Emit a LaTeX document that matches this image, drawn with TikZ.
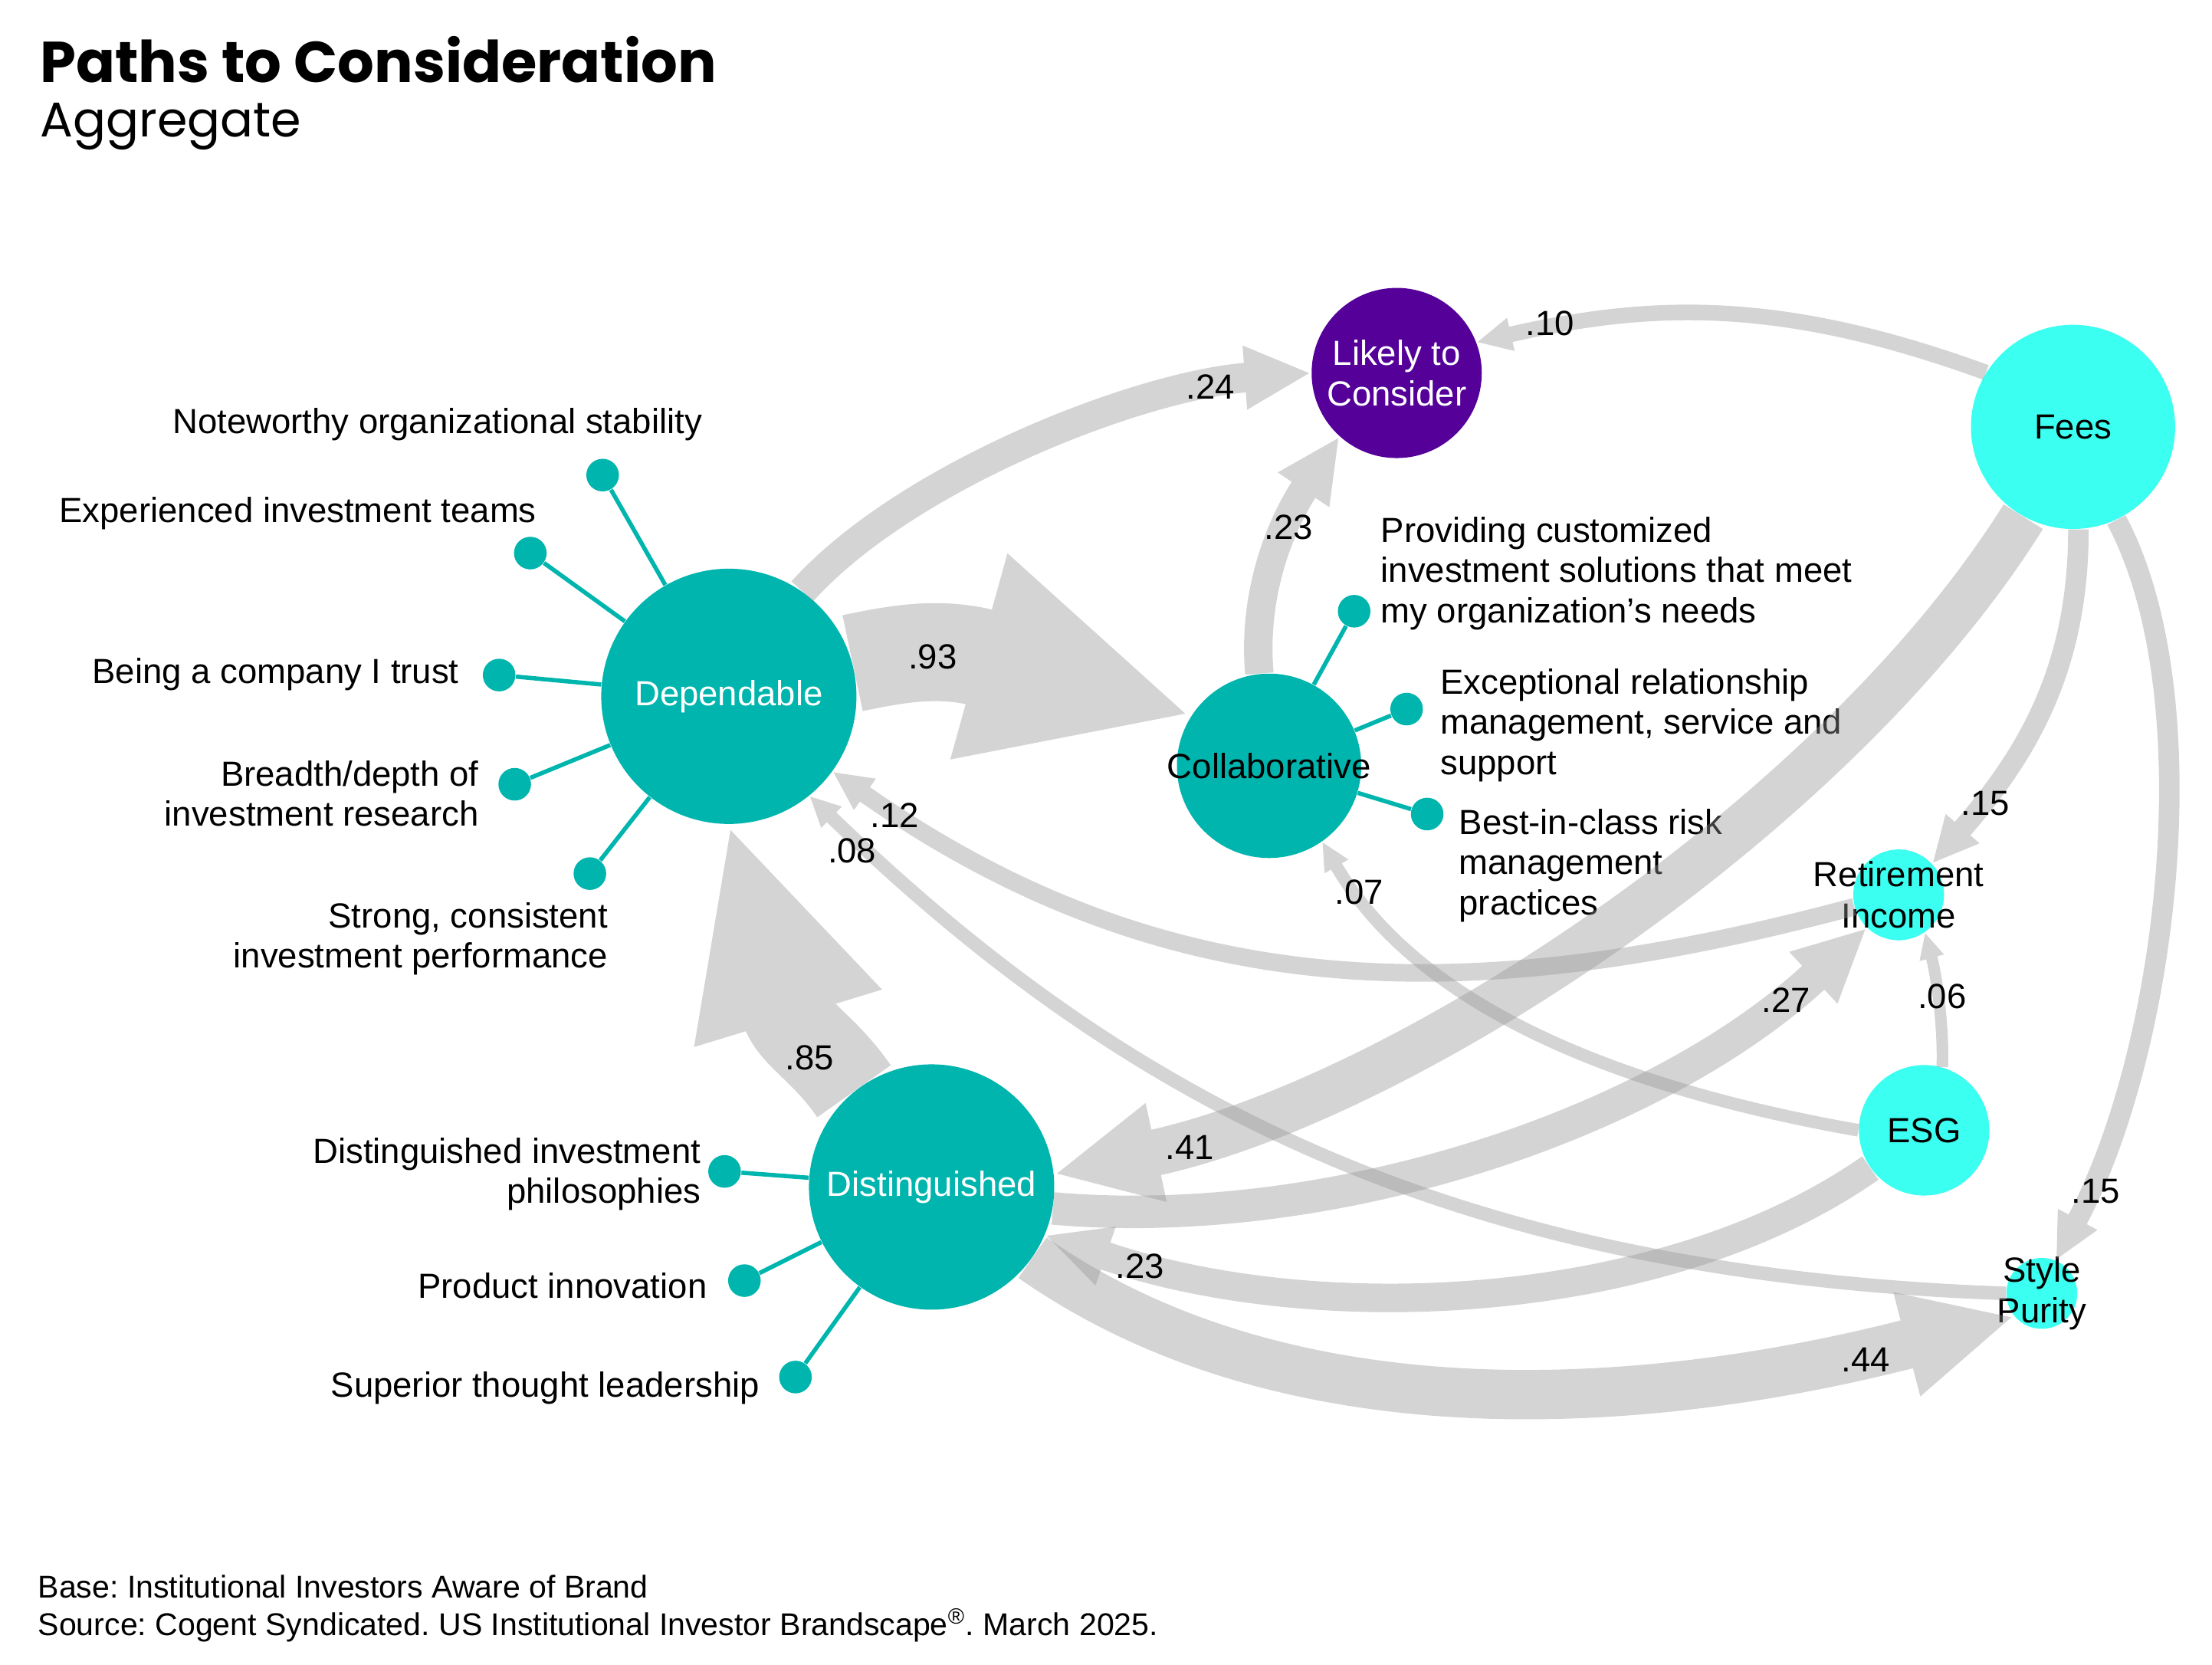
\documentclass[tikz,border=0pt]{standalone}
\usepackage{fontspec}
\setmainfont{Liberation Sans}
\newfontfamily\titlefont{Poppins}
\usetikzlibrary{arrows.meta,positioning}
\frenchspacing

\definecolor{brandteal}{HTML}{00B5AD}
\definecolor{brandpurple}{HTML}{540099}
\definecolor{brandaqua}{HTML}{3BFFF0}
\colorlet{flowgray}{black!42}

\tikzset{
  bubble/.style={circle, inner sep=0pt, fill=#1},
  inlabel/.style={font=\fontsize{12.3}{14.5}\selectfont, inner sep=0pt, align=center},
  dot/.style={circle, inner sep=0pt, minimum size=11.5pt, fill=brandteal},
  spoke/.style={draw=brandteal, line width=1.5pt},
  txt/.style={font=\fontsize{12.3}{14.2}\selectfont, inner sep=0pt},
  num/.style={font=\fontsize{12.3}{14.2}\selectfont, inner sep=0pt},
  flow/.style={draw=flowgray, line width=#1, -{Triangle[length=0pt 2.25, width=0pt 2]}}
}

\newcommand\flowarrow[2]{%
  \begin{scope}[transparency group, opacity=.4]
    \draw[flow=#1] #2;
  \end{scope}}

\begin{document}
\begin{tikzpicture}[x=0.5pt, y=0.5pt]
  \useasboundingbox (0,0) rectangle (1560,-1174);

  % title
  \node[anchor=base west, inner sep=0pt, font=\titlefont\bfseries\fontsize{20.3}{24}\selectfont] (title) at (28,-58) {Paths to Consideration};
  \node[anchor=base west, inner sep=0pt, font=\titlefont\fontsize{17.2}{21}\selectfont] (subtitle) at (28,-96.5) {Aggregate};

  % bubbles
  \node[bubble=brandteal, minimum size=90pt, label={[inlabel, text=white]center:Dependable}] (dep) at (514,-491) {};
  \node[bubble=brandteal, minimum size=65pt, label={[inlabel]center:Collaborative}] (col) at (895,-540) {};
  \node[bubble=brandteal, minimum size=86.5pt, label={[inlabel, text=white]center:Distinguished}] (dis) at (657,-837) {};
  \node[bubble=brandpurple, minimum size=60pt, label={[inlabel, text=white]center:Likely to\\Consider}] (lik) at (985,-263) {};
  \node[bubble=brandaqua, minimum size=72pt, label={[inlabel]center:Fees}] (fees) at (1462,-301) {};
  \node[bubble=brandaqua, minimum size=32pt, label={[inlabel]center:Retirement\\Income}] (ret) at (1339,-631) {};
  \node[bubble=brandaqua, minimum size=46pt, label={[inlabel]center:ESG}] (esg) at (1357,-797) {};
  \node[bubble=brandaqua, minimum size=25pt, label={[inlabel]center:Style\\Purity}] (sty) at (1440,-912) {};

  % attributes of Dependable
  \node[dot] (d1) at (425,-335) {};
  \node[dot] (d2) at (374,-390) {};
  \node[dot] (d3) at (352,-476) {};
  \node[dot] (d4) at (363,-553) {};
  \node[dot] (d5) at (416,-616) {};
  \foreach \d in {d1,d2,d3,d4,d5} \draw[spoke] (dep) -- (\d);
  \node[txt, anchor=base] (t1) at (308.5,-305.5) {Noteworthy organizational stability};
  \node[txt, anchor=base west] (t2) at (41.5,-368.5) {Experienced investment teams};
  \node[txt, anchor=base east] (t3) at (324,-482) {Being a company I trust};
  \node[txt, anchor=north east, align=right] (t4) at (338,-536) {Breadth/depth of\\investment research};
  \node[txt, anchor=north east, align=right] (t5) at (429,-636) {Strong, consistent\\investment performance};

  % attributes of Collaborative
  \node[dot] (c1) at (955,-431) {};
  \node[dot] (c2) at (992,-500) {};
  \node[dot] (c3) at (1006.5,-574) {};
  \foreach \c in {c1,c2,c3} \draw[spoke] (col) -- (\c);
  \node[txt, anchor=north west, align=left] (u1) at (973.5,-364) {Providing customized\\investment solutions that meet\\my organization’s needs};
  \node[txt, anchor=north west, align=left] (u2) at (1015.5,-471) {Exceptional relationship\\management, service and\\support};
  \node[txt, anchor=north west, align=left] (u3) at (1028.6,-570) {Best-in-class risk\\management\\practices};

  % attributes of Distinguished
  \node[dot] (s1) at (511,-826) {};
  \node[dot] (s2) at (525,-903) {};
  \node[dot] (s3) at (561,-971) {};
  \foreach \s in {s1,s2,s3} \draw[spoke] (dis) -- (\s);
  \node[txt, anchor=north east, align=right] (v1) at (494.6,-802) {Distinguished investment\\philosophies};
  \node[txt, anchor=base east] (v2) at (499,-915.4) {Product innovation};
  \node[txt, anchor=base east] (v3) at (536,-985) {Superior thought leadership};

  % paths
  \flowarrow{10.4pt}{(dep.55) .. controls +(48:110) and +(184:120) .. (lik.180)}
  \flowarrow{5.5pt}{(fees.148) .. controls +(160:150) and +(13:130) .. (lik.21)}
  \flowarrow{10.05pt}{(col.96) .. controls +(95:60) and +(236:70) .. (lik.228)}
  \flowarrow{34.55pt}{(dep.15) .. controls +(12:40) and +(164.5:180) .. (col.147)}
  \flowarrow{6.2pt}{(ret.195) .. controls +(195:280) and +(-35:290) .. (dep.-36)}
  \flowarrow{4.8pt}{(sty.180) .. controls +(178:400) and +(-44:300) .. (dep.-51)}
  \flowarrow{4.45pt}{(esg.180) .. controls +(170:200) and +(-60:120) .. (col.-55)}
  \flowarrow{7.25pt}{(fees.-87) .. controls +(-90:100) and +(49:100) .. (ret.43)}
  \flowarrow{16.35pt}{(fees.-119) .. controls +(238:250) and +(12:250) .. (dis.6)}
  \flowarrow{11.45pt}{(dis.-10) .. controls +(-5:200) and +(223:200) .. (ret.226)}
  \flowarrow{4.1pt}{(esg.74) .. controls +(88:30) and +(-75:30) .. (ret.-55)}
  \flowarrow{10.05pt}{(esg.215) .. controls +(215:180) and +(-19:200) .. (dis.-23)}
  \flowarrow{7.25pt}{(fees.-65) .. controls +(-62:140) and +(62:170) .. (sty.67)}
  \flowarrow{31.75pt}{(dis.129) .. controls +(125:40) and +(-73:155) .. (dep.-90)}
  \flowarrow{17.4pt}{(dis.-35) .. controls +(-35:230) and +(194.5:250) .. (sty.220)}

  % coefficients
  \node[num] (n24) at (853.6,-272.5) {.24};
  \node[num] (n10) at (1093,-228) {.10};
  \node[num] (n93) at (657.7,-463) {.93};
  \node[num] (n23a) at (908.7,-372) {.23};
  \node[num] (n12) at (630.8,-575) {.12};
  \node[num] (n08) at (600.9,-599.7) {.08};
  \node[num] (n07) at (958.4,-629) {.07};
  \node[num] (n15a) at (1400,-566.5) {.15};
  \node[num] (n27) at (1259.7,-705.3) {.27};
  \node[num] (n06) at (1369.7,-702.7) {.06};
  \node[num] (n85) at (571,-746) {.85};
  \node[num] (n41) at (839,-809) {.41};
  \node[num] (n23b) at (804,-892.8) {.23};
  \node[num] (n15b) at (1478,-839.8) {.15};
  \node[num] (n44) at (1316,-958.8) {.44};

  % notes
  \node[anchor=base west, inner sep=0pt, font=\fontsize{11.1}{13}\selectfont] (base) at (26.5,-1127) {Base: Institutional Investors Aware of Brand};
  \node[anchor=base west, inner sep=0pt, font=\fontsize{11.1}{13}\selectfont] (source) at (26.5,-1153) {Source: Cogent Syndicated. US Institutional Investor Brandscape\textsuperscript{®}. March 2025.};
\end{tikzpicture}
\end{document}
